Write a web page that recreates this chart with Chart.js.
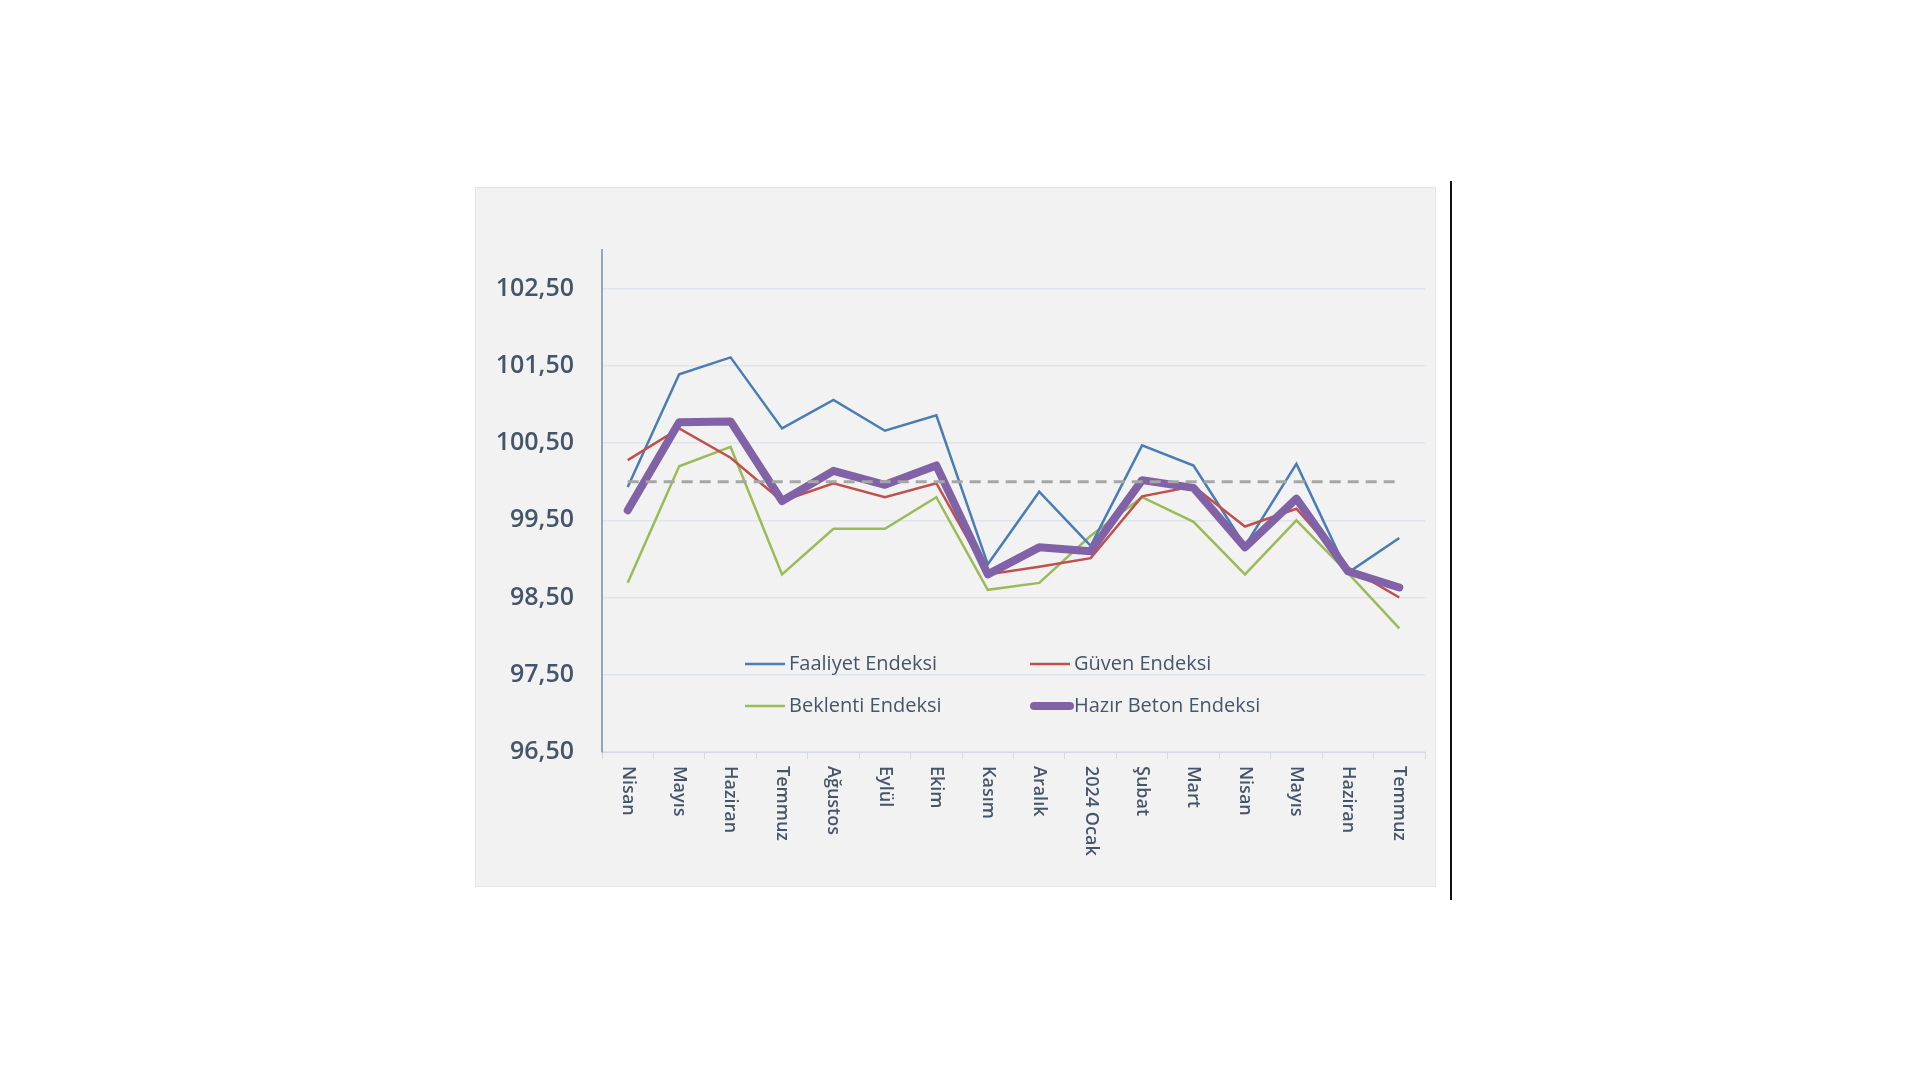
<!DOCTYPE html>
<html>
<head>
<meta charset="utf-8">
<script src="https://cdn.jsdelivr.net/npm/chart.js@4"></script>
<style>
  html, body { margin: 0; padding: 0; background: #ffffff; }
  body { width: 1920px; height: 1080px; position: relative; overflow: hidden; }
  #panel {
    position: absolute; left: 475px; top: 187px;
    width: 961px; height: 700px;
    background: #f2f2f2;
    box-shadow: inset 0 0 0 1px #e3e5e8;
  }
  #rule { position: absolute; left: 1450px; top: 181px; width: 2px; height: 719px; background: #111; }
</style>
</head>
<body>
<div id="panel"><canvas id="myChart" width="961" height="700"></canvas></div>
<div id="rule"></div>
<script>
'use strict';
const months = ['Nisan', 'Mayıs', 'Haziran', 'Temmuz', 'Ağustos', 'Eylül', 'Ekim', 'Kasım',
  'Aralık', '2024 Ocak', 'Şubat', 'Mart', 'Nisan', 'Mayıs', 'Haziran', 'Temmuz'];
const faaliyet = [99.93, 101.39, 101.61, 100.69, 101.06, 100.66, 100.86, 98.93,
  99.87, 99.17, 100.47, 100.21, 99.17, 100.23, 98.82, 99.27];
const guven = [100.28, 100.69, 100.31, 99.75, 99.98, 99.80, 99.98, 98.80,
  98.90, 99.01, 99.81, 99.94, 99.42, 99.65, 98.89, 98.50];
const beklenti = [98.69, 100.20, 100.45, 98.80, 99.39, 99.39, 99.80, 98.60,
  98.69, 99.30, 99.80, 99.48, 98.80, 99.50, 98.82, 98.10];
const hazirBeton = [99.63, 100.77, 100.78, 99.75, 100.14, 99.96, 100.21, 98.80,
  99.15, 99.10, 100.02, 99.92, 99.15, 99.78, 98.84, 98.63];
const esik = [100, 100, 100, 100, 100, 100, 100, 100, 100, 100, 100, 100, 100, 100, 100, 100];
const yTicks = [96.5, 97.5, 98.5, 99.5, 100.5, 101.5, 102.5];

const textColor = '#46566a';

// x labels read top to bottom, so they are drawn here
const xLabelPlugin = {
  id: 'xLabels',
  afterDraw(chart) {
    const ctx = chart.ctx;
    const xs = chart.scales.x;
    ctx.save();
    ctx.fillStyle = textColor;
    ctx.font = '600 18px "Open Sans"';
    ctx.textAlign = 'left';
    ctx.textBaseline = 'middle';
    months.forEach((m, i) => {
      ctx.save();
      ctx.translate(xs.getPixelForValue(i), xs.top + 14);
      ctx.rotate(Math.PI / 2);
      ctx.fillText(m, 0, 0);
      ctx.restore();
    });
    ctx.restore();
  }
};

// legend sits inside the plot, two rows of two
const legendPlugin = {
  id: 'innerLegend',
  afterDraw(chart) {
    const ctx = chart.ctx;
    const area = chart.chartArea;
    const items = [
      {ds: 1, col: 0, row: 0},
      {ds: 3, col: 1, row: 0},
      {ds: 4, col: 0, row: 1},
      {ds: 2, col: 1, row: 1}
    ];
    ctx.save();
    ctx.font = '20px "Open Sans"';
    ctx.textBaseline = 'middle';
    ctx.textAlign = 'left';
    items.forEach(it => {
      const d = chart.data.datasets[it.ds];
      const x = area.left + 143 + it.col * 285;
      const y = area.top + 414 + it.row * 42;
      ctx.strokeStyle = d.borderColor;
      ctx.lineWidth = d.borderWidth;
      ctx.lineCap = d.borderWidth > 4 ? 'round' : 'butt';
      ctx.beginPath();
      ctx.moveTo(x + (d.borderWidth > 4 ? 4 : 0), y);
      ctx.lineTo(x + 40, y);
      ctx.stroke();
      ctx.fillStyle = textColor;
      ctx.fillText(d.label, x + 44, y);
    });
    ctx.restore();
  }
};

function chartRender() {
  let ctx = document.getElementById('myChart').getContext('2d');
  let chart = new Chart(ctx, {
    type: 'line',
    data: {
      labels: months,
      datasets: [
        {
          label: 'Eşik',
          data: esik,
          borderColor: '#a6a6a6',
          borderWidth: 3,
          borderDash: [11, 7],
          pointRadius: 0
        },
        {
          label: 'Faaliyet Endeksi',
          data: faaliyet,
          borderColor: '#4a7db4',
          borderWidth: 2.5,
          pointRadius: 0,
          order: 3
        },
        {
          label: 'Hazır Beton Endeksi',
          data: hazirBeton,
          borderColor: '#8162a6',
          borderWidth: 8,
          borderJoinStyle: 'round',
          borderCapStyle: 'round',
          pointRadius: 0,
          order: 1
        },
        {
          label: 'Güven Endeksi',
          data: guven,
          borderColor: '#c0504d',
          borderWidth: 2.5,
          pointRadius: 0,
          order: 2
        },
        {
          label: 'Beklenti Endeksi',
          data: beklenti,
          borderColor: '#9bbb59',
          borderWidth: 2.5,
          pointRadius: 0,
          order: 4
        }
      ]
    },
    options: {
      responsive: false,
      animation: false,
      devicePixelRatio: 1,
      layout: { padding: { top: 63, right: 11, left: 0, bottom: 0 } },
      plugins: {
        legend: { display: false },
        tooltip: { enabled: false }
      },
      scales: {
        x: {
          offset: true,
          afterFit: (s) => { s.height = 135; },
          ticks: { display: false },
          grid: {
            offset: true,
            drawOnChartArea: false,
            drawTicks: true,
            tickLength: 7,
            color: '#d6dae0'
          },
          border: { color: '#d6dae0', width: 1 }
        },
        y: {
          min: 96.5,
          max: 103,
          afterFit: (s) => { s.width = 127; },
          afterBuildTicks: (s) => { s.ticks = yTicks.map(v => ({ value: v })); },
          ticks: {
            padding: 28,
            color: textColor,
            font: { family: '"Open Sans"', size: 25, weight: '600' },
            callback: (v) => Number(v).toFixed(2).replace('.', ',')
          },
          grid: { color: '#dfe4ea', lineWidth: 1.5, drawTicks: false },
          border: { color: '#93a5bb', width: 2 }
        }
      }
    },
    plugins: [xLabelPlugin, legendPlugin]
  });
}
chartRender();
</script>
</body>
</html>
